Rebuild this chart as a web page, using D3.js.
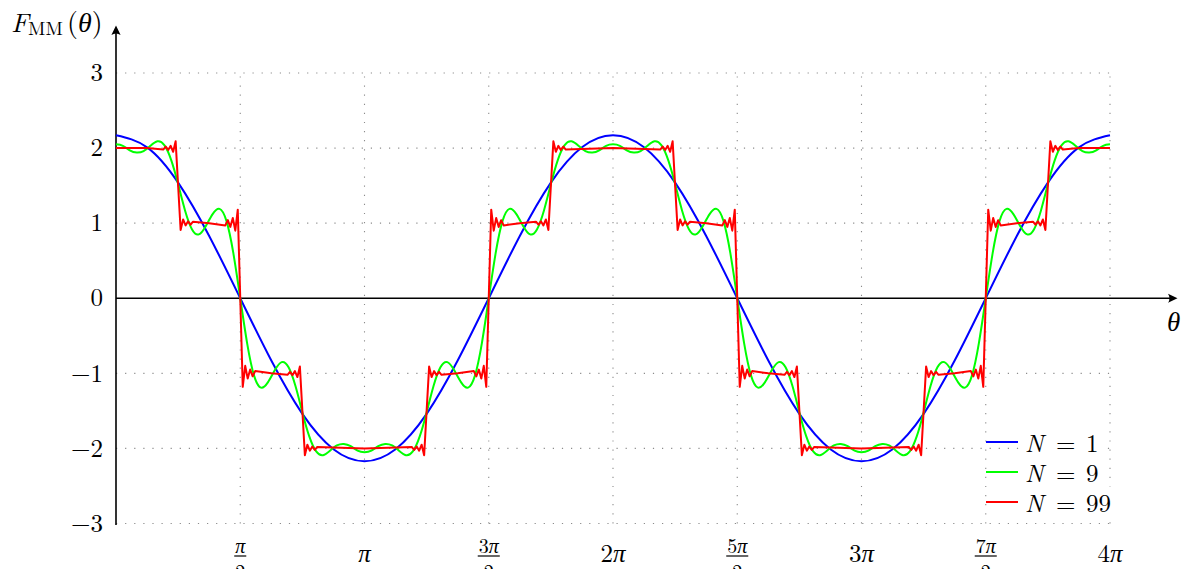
<!DOCTYPE html>
<html><head><meta charset="utf-8">
<script src="https://cdn.jsdelivr.net/npm/d3@7"></script>
<style>
html,body{margin:0;padding:0;background:#fff;}
svg{display:block;}
</style></head><body>
<svg id="chart" width="1183" height="569"></svg>
<script>
// ---------------- DATA (theta in units of pi) ----------------
const xTickValues = [0.5, 1, 1.5, 2, 2.5, 3, 3.5, 4];
const xTickLabels = ["π/2", "π", "3π/2", "2π", "5π/2", "3π", "7π/2", "4π"];
const yTickValues = [-3, -2, -1, 0, 1, 2, 3];
const yTickLabels = ["−3", "−2", "−1", "0", "1", "2", "3"];
const seriesNames = ["N = 1", "N = 9", "N = 99"];

// N = 1 : sampled every pi/8
const n1Step = 0.125;
const n1Values = [
  2.17, 2.01, 1.54, 0.83, 0, -0.83, -1.54, -2.01,
  -2.17, -2.01, -1.54, -0.83, 0, 0.83, 1.54, 2.01,
  2.17, 2.01, 1.54, 0.83, 0, -0.83, -1.54, -2.01,
  -2.17, -2.01, -1.54, -0.83, 0, 0.83, 1.54, 2.01,
  2.17
];

// N = 9 : sampled every pi/36
const n9Step = 1 / 36;
const n9Values = [
  2.05, 2.03, 1.97, 1.94, 1.96, 2.03, 2.09, 2.04, 1.84, 1.52, 1.17, 0.92, 0.85, 0.96, 1.12, 1.19, 1.03, 0.60, 0.00,
  -0.60, -1.03, -1.19, -1.12, -0.96, -0.85, -0.92, -1.17, -1.52, -1.84, -2.04, -2.09, -2.03, -1.96, -1.94, -1.97, -2.03, -2.05,
  -2.03, -1.97, -1.94, -1.96, -2.03, -2.09, -2.04, -1.84, -1.52, -1.17, -0.92, -0.85, -0.96, -1.12, -1.19, -1.03, -0.60, 0.00,
  0.60, 1.03, 1.19, 1.12, 0.96, 0.85, 0.92, 1.17, 1.52, 1.84, 2.04, 2.09, 2.03, 1.96, 1.94, 1.97, 2.03, 2.05,
  2.03, 1.97, 1.94, 1.96, 2.03, 2.09, 2.04, 1.84, 1.52, 1.17, 0.92, 0.85, 0.96, 1.12, 1.19, 1.03, 0.60, 0.00,
  -0.60, -1.03, -1.19, -1.12, -0.96, -0.85, -0.92, -1.17, -1.52, -1.84, -2.04, -2.09, -2.03, -1.96, -1.94, -1.97, -2.03, -2.05,
  -2.03, -1.97, -1.94, -1.96, -2.03, -2.09, -2.04, -1.84, -1.52, -1.17, -0.92, -0.85, -0.96, -1.12, -1.19, -1.03, -0.60, 0.00,
  0.60, 1.03, 1.19, 1.12, 0.96, 0.85, 0.92, 1.17, 1.52, 1.84, 2.04, 2.09, 2.03, 1.96, 1.94, 1.97, 2.03, 2.05
];

// N = 99 : points read around each jump
const n99Theta = [
  0, 0.125,
  0.19, 0.20, 0.21, 0.22, 0.23, 0.24, 0.25, 0.26, 0.27, 0.28, 0.29, 0.30, 0.31, 0.375,
  0.44, 0.45, 0.46, 0.47, 0.48, 0.49, 0.50, 0.51, 0.52, 0.53, 0.54, 0.55, 0.56, 0.625,
  0.69, 0.70, 0.71, 0.72, 0.73, 0.74, 0.75, 0.76, 0.77, 0.78, 0.79, 0.80, 0.81, 1.00,
  1.19, 1.20, 1.21, 1.22, 1.23, 1.24, 1.25, 1.26, 1.27, 1.28, 1.29, 1.30, 1.31, 1.375,
  1.44, 1.45, 1.46, 1.47, 1.48, 1.49, 1.50, 1.51, 1.52, 1.53, 1.54, 1.55, 1.56, 1.625,
  1.69, 1.70, 1.71, 1.72, 1.73, 1.74, 1.75, 1.76, 1.77, 1.78, 1.79, 1.80, 1.81, 2.00,
  2.19, 2.20, 2.21, 2.22, 2.23, 2.24, 2.25, 2.26, 2.27, 2.28, 2.29, 2.30, 2.31, 2.375,
  2.44, 2.45, 2.46, 2.47, 2.48, 2.49, 2.50, 2.51, 2.52, 2.53, 2.54, 2.55, 2.56, 2.625,
  2.69, 2.70, 2.71, 2.72, 2.73, 2.74, 2.75, 2.76, 2.77, 2.78, 2.79, 2.80, 2.81, 3.00,
  3.19, 3.20, 3.21, 3.22, 3.23, 3.24, 3.25, 3.26, 3.27, 3.28, 3.29, 3.30, 3.31, 3.375,
  3.44, 3.45, 3.46, 3.47, 3.48, 3.49, 3.50, 3.51, 3.52, 3.53, 3.54, 3.55, 3.56, 3.625,
  3.69, 3.70, 3.71, 3.72, 3.73, 3.74, 3.75, 3.76, 3.77, 3.78, 3.79, 3.80, 3.81, 3.875,
  4
];
const n99Values = [
  2, 2,
  1.98, 2.02, 1.975, 2.03, 1.95, 2.09, 1.5, 0.91, 1.05, 0.97, 1.025, 0.98, 1.02, 1,
  0.97, 1.04, 0.95, 1.07, 0.90, 1.18, 0, -1.18, -0.90, -1.07, -0.95, -1.04, -0.97, -1,
  -1.02, -0.98, -1.025, -0.97, -1.05, -0.91, -1.5, -2.09, -1.95, -2.03, -1.975, -2.02, -1.98, -2,
  -1.98, -2.02, -1.975, -2.03, -1.95, -2.09, -1.5, -0.91, -1.05, -0.97, -1.025, -0.98, -1.02, -1,
  -0.97, -1.04, -0.95, -1.07, -0.90, -1.18, 0, 1.18, 0.90, 1.07, 0.95, 1.04, 0.97, 1,
  1.02, 0.98, 1.025, 0.97, 1.05, 0.91, 1.5, 2.09, 1.95, 2.03, 1.975, 2.02, 1.98, 2,
  1.98, 2.02, 1.975, 2.03, 1.95, 2.09, 1.5, 0.91, 1.05, 0.97, 1.025, 0.98, 1.02, 1,
  0.97, 1.04, 0.95, 1.07, 0.90, 1.18, 0, -1.18, -0.90, -1.07, -0.95, -1.04, -0.97, -1,
  -1.02, -0.98, -1.025, -0.97, -1.05, -0.91, -1.5, -2.09, -1.95, -2.03, -1.975, -2.02, -1.98, -2,
  -1.98, -2.02, -1.975, -2.03, -1.95, -2.09, -1.5, -0.91, -1.05, -0.97, -1.025, -0.98, -1.02, -1,
  -0.97, -1.04, -0.95, -1.07, -0.90, -1.18, 0, 1.18, 0.90, 1.07, 0.95, 1.04, 0.97, 1,
  1.02, 0.98, 1.025, 0.97, 1.05, 0.91, 1.5, 2.09, 1.95, 2.03, 1.975, 2.02, 1.98, 2,
  2
];

// ---------------- LAYOUT / STYLE ----------------
const FONT = "'Latin Modern Roman', 'Latin Modern Math', 'Liberation Serif', serif";
const GREEK = "'Liberation Serif', 'DejaVu Serif', serif";
const svg = d3.select("#chart").style("font-family", FONT);
const x = d3.scaleLinear().domain([0, 4]).range([116, 1110]);
const y = d3.scaleLinear().domain([-3, 3]).range([523.5, 73]);
const colors = ["#0000ff", "#00ff00", "#ff0000"];
const FS = 25;

const series = [
  { name: seriesNames[0], color: colors[0], curve: d3.curveNatural,
    points: n1Values.map((v, i) => [i * n1Step, v]) },
  { name: seriesNames[1], color: colors[1], curve: d3.curveNatural,
    points: n9Values.map((v, i) => [i * n9Step, v]) },
  { name: seriesNames[2], color: colors[2], curve: d3.curveLinear,
    points: n99Values.map((v, i) => [n99Theta[i], v]) }
];

// write a label; Greek letters in italic serif (math style)
function mathText(sel, str) {
  str.split(/([πθ])/).filter(s => s.length).forEach(part => {
    const t = sel.append("tspan").text(part);
    if (part === "π" || part === "θ") t.attr("font-style", "italic").style("font-family", GREEK);
  });
}

// grid
const grid = svg.append("g").attr("stroke", "#8c8c8c").attr("stroke-width", 1.1)
  .attr("stroke-dasharray", "1.2 7.9").attr("fill", "none");
grid.selectAll("line.v").data(xTickValues).join("line").attr("class", "v")
  .attr("x1", d => x(d)).attr("x2", d => x(d))
  .attr("y1", y(-3)).attr("y2", y(3));
grid.selectAll("line.h").data(yTickValues.filter(v => v !== 0)).join("line").attr("class", "h")
  .attr("x1", x(0)).attr("x2", x(4))
  .attr("y1", d => y(d)).attr("y2", d => y(d));

// axes
const ax = svg.append("g");
ax.append("line").attr("x1", x(0)).attr("x2", x(0)).attr("y1", 525).attr("y2", 31)
  .attr("stroke", "#000").attr("stroke-width", 1.6);
ax.append("path").attr("d", `M${x(0)},25.5 L${x(0)+4.6},35 Q${x(0)},32 ${x(0)-4.6},35 Z`).attr("fill", "#000");
ax.append("line").attr("x1", x(0)).attr("x2", 1171).attr("y1", y(0)).attr("y2", y(0))
  .attr("stroke", "#000").attr("stroke-width", 1.6);
ax.append("path").attr("d", `M1177.5,${y(0)} L1168,${y(0)-4.6} Q1171,${y(0)} 1168,${y(0)+4.6} Z`).attr("fill", "#000");

// y tick labels
svg.append("g").selectAll("text").data(yTickValues).join("text")
  .attr("x", 103).attr("y", d => y(d) + 8.2)
  .attr("text-anchor", "end").attr("font-size", FS)
  .text((d, i) => yTickLabels[i]);

// x tick labels
const xl = svg.append("g");
xTickValues.forEach((v, i) => {
  const lab = xTickLabels[i];
  const cx = x(v);
  if (lab.includes("/")) {
    const [num, den] = lab.split("/");
    const t = xl.append("text").attr("x", cx).attr("y", 553).attr("text-anchor", "middle")
      .attr("font-size", 20);
    mathText(t, num);
    const w = t.node().getComputedTextLength();
    xl.append("line").attr("x1", cx - w / 2 - 1).attr("x2", cx + w / 2 + 1)
      .attr("y1", 556).attr("y2", 556).attr("stroke", "#000").attr("stroke-width", 1.2);
    xl.append("text").attr("x", cx).attr("y", 579).attr("text-anchor", "middle")
      .attr("font-size", 20).text(den);
  } else {
    const t = xl.append("text").attr("x", cx).attr("y", 562).attr("text-anchor", "middle")
      .attr("font-size", FS);
    mathText(t, lab);
  }
});

// axis labels
const yl = svg.append("g");
yl.append("text").attr("x", 11).attr("y", 32).attr("font-size", 27).attr("font-style", "italic").text("F");
yl.append("text").attr("x", 28).attr("y", 35).attr("font-size", 19).text("MM");
const pl = yl.append("text").attr("x", 67).attr("y", 32).attr("font-size", 28);
pl.append("tspan").text("(");
pl.append("tspan").attr("font-style", "italic").style("font-family", GREEK).text("θ");
pl.append("tspan").text(")");
svg.append("text").attr("x", 1167).attr("y", 331).attr("font-size", 27)
  .attr("font-style", "italic").style("font-family", GREEK).text("θ");

// curves
const line = d3.line().x(d => x(d[0])).y(d => y(d[1]));
svg.append("g").selectAll("path").data(series).join("path")
  .attr("d", d => line.curve(d.curve)(d.points))
  .attr("fill", "none").attr("stroke", d => d.color)
  .attr("stroke-width", 2).attr("stroke-linejoin", "round");

// legend
const lg = svg.append("g");
series.forEach((s, i) => {
  const ry = 442 + 30 * i;
  const [lhs, rhs] = s.name.split(" = ");
  const bg = lg.append("rect").attr("fill", "#fff");
  lg.append("line").attr("x1", 986).attr("x2", 1018).attr("y1", ry).attr("y2", ry)
    .attr("stroke", s.color).attr("stroke-width", 2);
  const t = lg.append("text").attr("x", 1025).attr("y", ry + 9.5).attr("font-size", FS);
  t.append("tspan").attr("font-style", "italic").text(lhs);
  t.append("tspan").attr("x", 1056).text("=");
  t.append("tspan").attr("x", 1086).text(rhs);
  const bb = t.node().getBBox();
  bg.attr("x", bb.x - 2).attr("y", bb.y + 3).attr("width", bb.width + 4).attr("height", bb.height - 6);
});
</script>
</body></html>
